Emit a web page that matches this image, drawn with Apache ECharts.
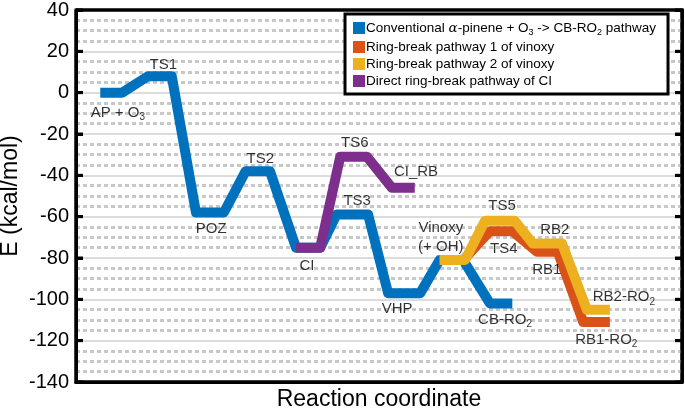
<!DOCTYPE html>
<html><head><meta charset="utf-8">
<script src="https://cdn.jsdelivr.net/npm/echarts@6/dist/echarts.min.js"></script>
<style>html,body{margin:0;padding:0;background:#fff}#c{width:685px;height:411px}</style>
</head><body><div id="c"></div>
<script>
// Y axis range / ticks (kcal/mol)
const yMin = -140, yMax = 40, yStep = 20;
const xMin = 0, xMax = 100;
const xTitle = 'Reaction coordinate';
const yTitle = 'E (kcal/mol)';
// Reaction coordinate (arbitrary units 0..100)
const conventionalX = [4, 7.6, 11.9, 15.8, 19.8, 24.4, 28, 32, 36.3, 40.3, 43, 48.2, 51.5, 56.8, 60, 63.9, 68.3, 72];
const conventionalE = [0, 0, 8, 8, -58, -58, -38, -38, -75, -75, -59, -59, -97, -97, -81, -81, -102, -102];
const ciDirectX = [36.3, 40.3, 43.6, 48.0, 52.1, 55.9];
const ciDirectE = [-75, -75, -31, -31, -46, -46];
const rb1X = [60, 63.9, 68.3, 72, 76.1, 79.5, 83.7, 88.1];
const rb1E = [-81, -81, -67, -67, -77, -77, -111, -111];
const rb2X = [60, 64.2, 67.5, 72.4, 75.4, 80.2, 84.3, 88.1];
const rb2E = [-81, -81, -62, -62, -73, -73, -105, -105];
const seriesNames = [
  'Conventional α-pinene + O3 -> CB-RO2 pathway',
  'Ring-break pathway 1 of vinoxy',
  'Ring-break pathway 2 of vinoxy',
  'Direct ring-break pathway of CI'
];
const seriesColors = ['#0072BD', '#D95319', '#EDB120', '#7E2F8E'];
// species annotations: text, x, E
const labelTexts = ['AP + O{s|3}', 'TS1', 'POZ', 'TS2', 'CI', 'TS6', 'CI_RB', 'TS3', 'Vinoxy', '(+ OH)', 'VHP', 'CB-RO{s|2}', 'TS5', 'TS4', 'RB2', 'RB1', 'RB2-RO{s|2}', 'RB1-RO{s|2}'];
const labelX = [6.9, 14.4, 22.3, 30.4, 38.1, 46.0, 56.1, 46.4, 60.2, 60.2, 53.0, 70.8, 70.3, 70.6, 79.0, 77.7, 90.4, 87.5];
const labelE = [-9.6, 13.5, -65.9, -32.2, -83.7, -24.5, -38.5, -52.5, -65.4, -74.6, -104.4, -109.8, -54.9, -75.6, -66.4, -85.7, -99, -119.5];
const tickValues = [];
for (let v = yMin; v <= yMax; v += yStep) tickValues.push(v);

const zip = (xs, ys) => xs.map((x, i) => [x, ys[i]]);
const FONT = 'Liberation Sans, Arial, Helvetica, sans-serif';

function lineSeries(name, xs, ys, color) {
  return {
    name, type: 'line', data: zip(xs, ys), showSymbol: false, symbol: 'none',
    color, animation: false, silent: true,
    lineStyle: { width: 10, color, cap: 'butt', join: 'round' }
  };
}

// Frame + inward ticks drawn as a custom series from the axis scales
function renderFrame(params, api) {
  const tl = api.coord([xMin, yMax]);
  const br = api.coord([xMax, yMin]);
  const st = { stroke: '#000', lineWidth: 3, fill: null };
  const children = [{
    type: 'polyline',
    shape: { points: [[tl[0], tl[1]], [br[0], tl[1]], [br[0], br[1]], [tl[0], br[1]], [tl[0], tl[1]]] },
    style: { stroke: '#000', lineWidth: 3, fill: null, lineJoin: 'miter' }
  }];
  tickValues.forEach(v => {
    const py = api.coord([xMin, v])[1];
    children.push({ type: 'line', shape: { x1: tl[0], y1: py, x2: tl[0] + 7, y2: py }, style: st });
    children.push({ type: 'line', shape: { x1: br[0] - 7, y1: py, x2: br[0], y2: py }, style: st });
  });
  return { type: 'group', children };
}

const chart = echarts.init(document.getElementById('c'), null, { renderer: 'canvas' });
chart.setOption({
  animation: false,
  backgroundColor: '#fff',
  textStyle: { fontFamily: FONT },
  grid: { left: 76, right: 3, top: 8, bottom: 29, show: true, borderColor: '#000', borderWidth: 3, backgroundColor: 'transparent' },
  xAxis: {
    type: 'value', min: xMin, max: xMax,
    axisLine: { show: true, onZero: false, lineStyle: { color: '#000', width: 3 } },
    axisTick: { show: false }, axisLabel: { show: false }, splitLine: { show: false }
  },
  yAxis: [{
    type: 'value', min: yMin, max: yMax, interval: yStep, position: 'left',
    axisLine: { show: true, lineStyle: { color: '#000', width: 3 } },
    axisTick: { show: true, inside: true, length: 7, lineStyle: { color: '#000', width: 3 } },
    axisLabel: { fontSize: 20, color: '#000', margin: 7, fontFamily: FONT },
    splitLine: { show: true, lineStyle: { color: '#dcdcdc', width: 2 } },
    minorTick: { show: false, splitNumber: 4 },
    minorSplitLine: { show: true, lineStyle: { color: '#c8c8c8', width: 3, type: [4, 3] } }
  }, {
    type: 'value', min: yMin, max: yMax, interval: yStep, position: 'right',
    axisLine: { show: true, lineStyle: { color: '#000', width: 3 } },
    axisTick: { show: true, inside: true, length: 7, lineStyle: { color: '#000', width: 3 } },
    axisLabel: { show: false }, splitLine: { show: false }
  }],
  legend: {
    data: seriesNames,
    orient: 'vertical', left: 345, top: 14,
    backgroundColor: '#fff', borderColor: '#000', borderWidth: 3,
    padding: [7, 12, 6, 8], itemGap: 3,
    icon: 'rect', itemWidth: 12, itemHeight: 12,
    selectedMode: false,
    textStyle: {
      fontSize: 13.5, color: '#000', fontFamily: FONT, padding: [0, 0, 0, -4],
      rich: {
        s: { fontSize: 9, verticalAlign: 'top', padding: [9, 0, 0, 0], color: '#000' },
        a: { fontSize: 13.5, fontFamily: 'DejaVu Serif', fontStyle: 'italic', color: '#000' }
      }
    },
    formatter: n => n === seriesNames[0] ? 'Conventional {a|α}-pinene + O{s|3} -> CB-RO{s|2} pathway' : n
  },
  series: [
    lineSeries(seriesNames[0], conventionalX, conventionalE, seriesColors[0]),
    lineSeries(seriesNames[3], ciDirectX, ciDirectE, seriesColors[3]),
    lineSeries(seriesNames[1], rb1X, rb1E, seriesColors[1]),
    lineSeries(seriesNames[2], rb2X, rb2E, seriesColors[2]),
    {
      name: 'labels', type: 'scatter', symbolSize: 0, silent: true, z: 5,
      data: labelTexts.map((t, i) => ({ value: [labelX[i], labelE[i]], txt: t })),
      label: {
        show: true, position: 'inside', align: 'center', verticalAlign: 'middle',
        fontSize: 15, color: '#000', fontFamily: FONT,
        formatter: p => p.data.txt,
        rich: { s: { fontSize: 10, verticalAlign: 'top', padding: [10, 0, 0, 0], color: '#000', fontFamily: FONT } }
      }
    },
    {
      name: 'frame', type: 'custom', clip: false, silent: true, z: 20,
      data: [[xMin, yMin]], renderItem: renderFrame
    }
  ]
});

// Axis titles placed from the grid's pixel extents
const tl = chart.convertToPixel({ gridIndex: 0 }, [xMin, yMax]);
const br = chart.convertToPixel({ gridIndex: 0 }, [xMax, yMin]);
chart.setOption({ graphic: [
  { type: 'text', x: (tl[0] + br[0]) / 2, y: br[1] + 18, silent: true,
    style: { text: xTitle, fontSize: 23, fontFamily: FONT, fill: '#000', align: 'center', verticalAlign: 'middle' } },
  { type: 'text', x: 11, y: (tl[1] + br[1]) / 2, rotation: Math.PI / 2, silent: true,
    style: { text: yTitle, fontSize: 23, fontFamily: FONT, fill: '#000', align: 'center', verticalAlign: 'middle' } }
] });
</script>
</body></html>
